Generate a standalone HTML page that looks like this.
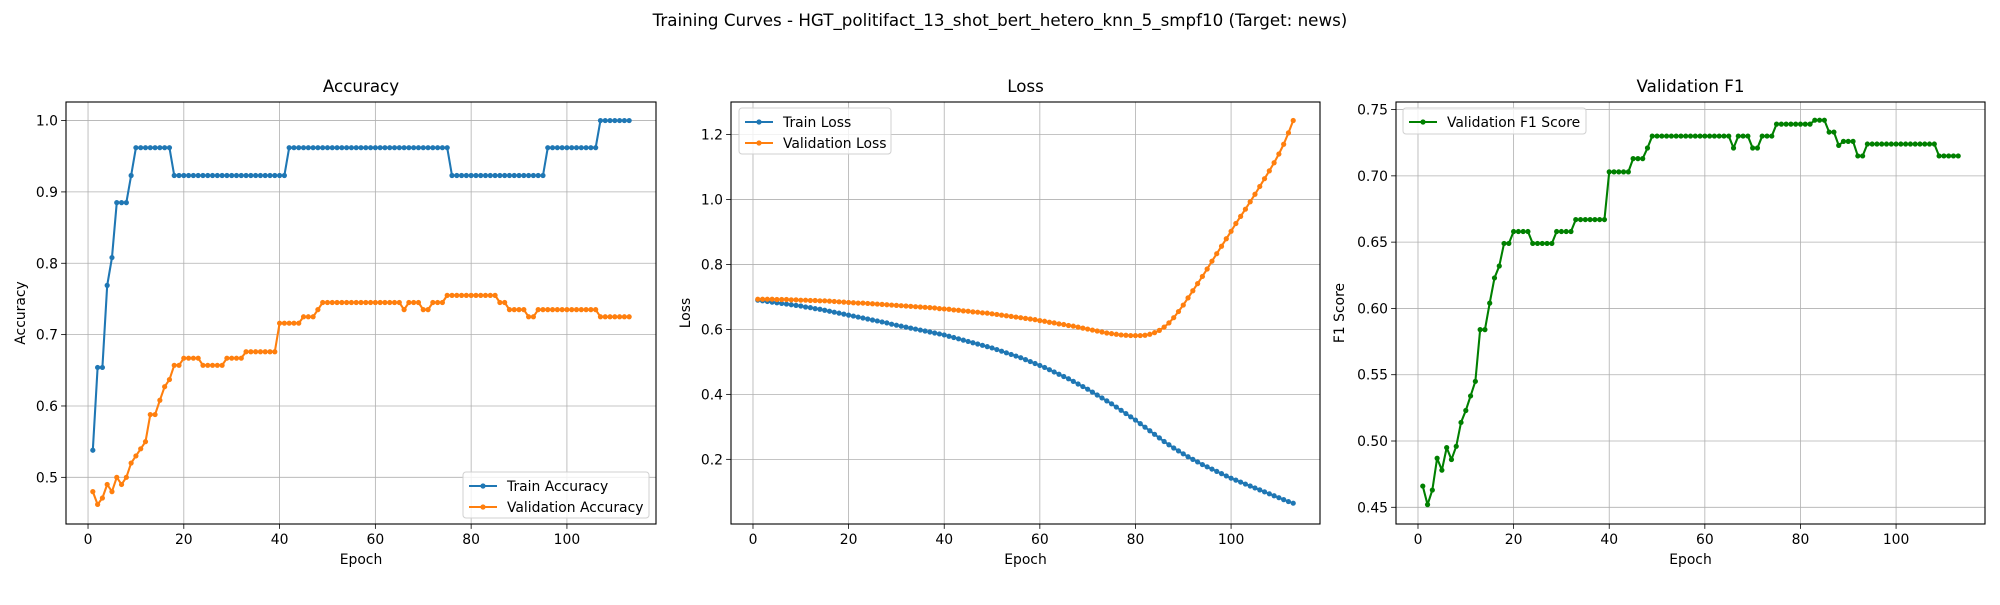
<!DOCTYPE html>
<html><head><meta charset="utf-8"><style>
body{margin:0;background:#fff}
svg text{font-family:"DejaVu Sans","Liberation Sans",sans-serif;fill:#000}
</style></head><body>
<svg id="chart" width="2000" height="600" xmlns="http://www.w3.org/2000/svg">
<text x="1000" y="26" font-size="16.7" text-anchor="middle">Training Curves - HGT_politifact_13_shot_bert_hetero_knn_5_smpf10 (Target: news)</text>
</svg>
<script>
const trainAcc=[0.538,0.654,0.654,0.769,0.808,0.885,0.885,0.885,0.923,0.962,0.962,0.962,0.962,0.962,0.962,0.962,0.962,
0.923,0.923,0.923,0.923,0.923,0.923,0.923,0.923,0.923,0.923,0.923,0.923,0.923,0.923,0.923,0.923,0.923,0.923,0.923,0.923,0.923,0.923,0.923,0.923,
0.962,0.962,0.962,0.962,0.962,0.962,0.962,0.962,0.962,0.962,0.962,0.962,0.962,0.962,0.962,0.962,0.962,0.962,0.962,0.962,0.962,0.962,0.962,0.962,0.962,0.962,0.962,0.962,0.962,0.962,0.962,0.962,0.962,0.962,
0.923,0.923,0.923,0.923,0.923,0.923,0.923,0.923,0.923,0.923,0.923,0.923,0.923,0.923,0.923,0.923,0.923,0.923,0.923,0.923,
0.962,0.962,0.962,0.962,0.962,0.962,0.962,0.962,0.962,0.962,0.962,
1,1,1,1,1,1,1];
const valAcc=[0.48,0.462,0.471,0.49,0.48,0.5,0.49,0.5,0.52,0.53,0.54,0.55,0.588,0.588,0.608,0.627,0.637,0.657,0.657,
0.667,0.667,0.667,0.667,0.657,0.657,0.657,0.657,0.657,0.667,0.667,0.667,0.667,
0.676,0.676,0.676,0.676,0.676,0.676,0.676,0.716,0.716,0.716,0.716,0.716,0.725,0.725,0.725,0.735,
0.745,0.745,0.745,0.745,0.745,0.745,0.745,0.745,0.745,0.745,0.745,0.745,0.745,0.745,0.745,0.745,0.745,
0.735,0.745,0.745,0.745,0.735,0.735,0.745,0.745,0.745,
0.755,0.755,0.755,0.755,0.755,0.755,0.755,0.755,0.755,0.755,0.755,0.745,0.745,0.735,0.735,0.735,0.735,0.725,0.725,
0.735,0.735,0.735,0.735,0.735,0.735,0.735,0.735,0.735,0.735,0.735,0.735,0.735,
0.725,0.725,0.725,0.725,0.725,0.725,0.725];
const trainLoss=[0.690,0.688,0.686,0.684,0.682,0.680,0.678,0.676,0.674,0.672,
0.669,0.667,0.664,0.662,0.659,0.656,0.653,0.650,0.647,0.644,
0.641,0.638,0.635,0.632,0.629,0.626,0.623,0.620,0.616,0.613,
0.610,0.607,0.604,0.601,0.598,0.595,0.592,0.589,0.586,0.583,
0.579,0.575,0.571,0.567,0.563,0.559,0.555,0.551,0.547,0.543,
0.538,0.533,0.528,0.523,0.518,0.513,0.507,0.501,0.495,0.489,
0.483,0.476,0.469,0.462,0.455,0.448,0.440,0.432,0.424,0.416,
0.407,0.398,0.389,0.380,0.371,0.361,0.351,0.341,0.331,0.321,
0.310,0.299,0.288,0.277,0.266,0.255,0.245,0.235,0.226,0.217,
0.208,0.200,0.192,0.184,0.177,0.170,0.163,0.156,0.149,0.142,
0.136,0.130,0.124,0.118,0.112,0.106,0.100,0.094,0.088,0.082,
0.076,0.070,0.065];
const valLoss=[0.693,0.693,0.693,0.693,0.692,0.692,0.692,0.691,0.691,0.690,
0.690,0.689,0.689,0.688,0.688,0.687,0.686,0.685,0.684,0.683,
0.682,0.681,0.681,0.680,0.679,0.678,0.677,0.676,0.675,0.674,
0.673,0.672,0.671,0.670,0.669,0.668,0.667,0.666,0.664,0.663,
0.662,0.660,0.659,0.657,0.656,0.654,0.653,0.651,0.650,0.648,
0.646,0.644,0.642,0.640,0.638,0.636,0.634,0.632,0.630,0.627,
0.625,0.622,0.620,0.617,0.615,0.612,0.610,0.607,0.604,0.601,
0.598,0.595,0.592,0.589,0.587,0.585,0.583,0.582,0.581,0.581,
0.581,0.582,0.585,0.590,0.597,0.607,0.620,0.636,0.655,0.675,
0.697,0.719,0.741,0.763,0.786,0.810,0.833,0.856,0.879,0.902,
0.926,0.948,0.970,0.993,1.016,1.040,1.064,1.088,1.113,1.140,
1.170,1.205,1.243];
const valF1=[0.466,0.452,0.463,0.487,0.478,0.495,0.486,0.496,0.514,0.523,0.534,0.545,0.584,0.584,0.604,0.623,0.632,0.649,0.649,
0.658,0.658,0.658,0.658,0.649,0.649,0.649,0.649,0.649,0.658,0.658,0.658,0.658,
0.667,0.667,0.667,0.667,0.667,0.667,0.667,0.703,0.703,0.703,0.703,0.703,0.713,0.713,0.713,0.721,
0.730,0.730,0.730,0.730,0.730,0.730,0.730,0.730,0.730,0.730,0.730,0.730,0.730,0.730,0.730,0.730,0.730,
0.721,0.730,0.730,0.730,0.721,0.721,0.730,0.730,0.730,
0.739,0.739,0.739,0.739,0.739,0.739,0.739,0.739,0.742,0.742,0.742,0.733,0.733,0.723,0.726,0.726,0.726,0.715,0.715,
0.724,0.724,0.724,0.724,0.724,0.724,0.724,0.724,0.724,0.724,0.724,0.724,0.724,0.724,0.724,
0.715,0.715,0.715,0.715,0.715];
const xTicks=[0,20,40,60,80,100];
const accTicks=[0.5,0.6,0.7,0.8,0.9,1.0];
const lossTicks=[0.2,0.4,0.6,0.8,1.0,1.2];
const f1Ticks=[0.45,0.50,0.55,0.60,0.65,0.70,0.75];

const svg=document.getElementById('chart');
const NS='http://www.w3.org/2000/svg';
function mk(tag,attrs,parent){const e=document.createElementNS(NS,tag);for(const k in attrs)e.setAttribute(k,attrs[k]);(parent||svg).appendChild(e);return e;}

function panel(cfg){
  const g=mk('g',{});
  
  
  const L=cfg.l,R=cfg.r,T=102,B=524;
  const sx=v=>L+(v-(-4.6))/(118.6-(-4.6))*(R-L);
  const sy=v=>B-(v-cfg.ymin)/(cfg.ymax-cfg.ymin)*(B-T);
  xTicks.forEach(t=>{
    const x=sx(t);
    const gl=mk('line',{x1:x,x2:x,y1:T,y2:B,stroke:'#b0b0b0','stroke-width':0.8},g);
    
    mk('line',{x1:x,x2:x,y1:B,y2:B+4.9,stroke:'#000','stroke-width':0.8},g);
    const tx=mk('text',{x:x,y:B+20,'font-size':13.9,'text-anchor':'middle'},g);
    
    tx.textContent=t;
  });
  cfg.ticks.forEach(t=>{
    const y=sy(t);
    const gl=mk('line',{x1:L,x2:R,y1:y,y2:y,stroke:'#b0b0b0','stroke-width':0.8},g);
    
    mk('line',{x1:L-4.9,x2:L,y1:y,y2:y,stroke:'#000','stroke-width':0.8},g);
    const tx=mk('text',{x:L-8,y:y+5,'font-size':13.9,'text-anchor':'end'},g);
    
    tx.textContent=t.toFixed(cfg.dec);
  });
  cfg.series.forEach(s=>{
    const pts=s.data.map((v,i)=>sx(i+1).toFixed(2)+','+sy(v).toFixed(2)).join(' ');
    const pl=mk('polyline',{points:pts,fill:'none',stroke:s.color,'stroke-width':2.08,'stroke-linejoin':'round'},g);
    
    s.data.forEach((v,i)=>{
      const c=mk('circle',{cx:sx(i+1),cy:sy(v),r:2.6,fill:s.color},g);
      
    });
  });
  const fr=mk('rect',{x:L,y:T,width:R-L,height:B-T,fill:'none',stroke:'#000','stroke-width':1.1},g);
  
  const ti=mk('text',{x:(L+R)/2,y:92,'font-size':16.7,'text-anchor':'middle'},g);
  
  ti.textContent=cfg.title;
  const xl=mk('text',{x:(L+R)/2,y:564,'font-size':13.9,'text-anchor':'middle'},g);
  
  xl.textContent='Epoch';
  const yl=mk('text',{x:cfg.ylx,y:(T+B)/2,'font-size':13.9,'text-anchor':'middle',transform:'rotate(-90 '+cfg.ylx+' '+(T+B)/2+')'},g);
  
  yl.textContent=cfg.ylabel;
  const lg=cfg.legend;
  const lgG=mk('g',{},g);
  
  mk('rect',{x:lg.x,y:lg.y,width:lg.w,height:lg.h,rx:3,fill:'#fff','fill-opacity':0.8,stroke:'#d0d0d0','stroke-width':1},lgG);
  cfg.series.forEach((s,i)=>{
    const y=lg.y+14+i*21;
    mk('line',{x1:lg.x+6,x2:lg.x+34,y1:y,y2:y,stroke:s.color,'stroke-width':2.08},lgG);
    mk('circle',{cx:lg.x+20,cy:y,r:2.6,fill:s.color},lgG);
    const t=mk('text',{x:lg.x+44,y:y+5,'font-size':13.9},lgG);
    
    t.textContent=s.label;
  });
}
panel({name:'accuracy',l:66,r:656,ymin:0.4346,ymax:1.026,ticks:accTicks,dec:1,title:'Accuracy',ylabel:'Accuracy',ylx:25,
  legend:{x:463,y:472,w:186,h:46},
  series:[{id:'train-accuracy',data:trainAcc,color:'#1f77b4',label:'Train Accuracy'},{id:'validation-accuracy',data:valAcc,color:'#ff7f0e',label:'Validation Accuracy'}]});
panel({name:'loss',l:731,r:1320,ymin:0.001,ymax:1.300,ticks:lossTicks,dec:1,title:'Loss',ylabel:'Loss',ylx:690,
  legend:{x:739,y:108,w:152,h:46},
  series:[{id:'train-loss',data:trainLoss,color:'#1f77b4',label:'Train Loss'},{id:'validation-loss',data:valLoss,color:'#ff7f0e',label:'Validation Loss'}]});
panel({name:'f1',l:1396,r:1985,ymin:0.4374,ymax:0.7557,ticks:f1Ticks,dec:2,title:'Validation F1',ylabel:'F1 Score',ylx:1344,
  legend:{x:1403,y:108,w:183,h:26},
  series:[{id:'validation-f1',data:valF1,color:'#008000',label:'Validation F1 Score'}]});
</script>
</body></html>
